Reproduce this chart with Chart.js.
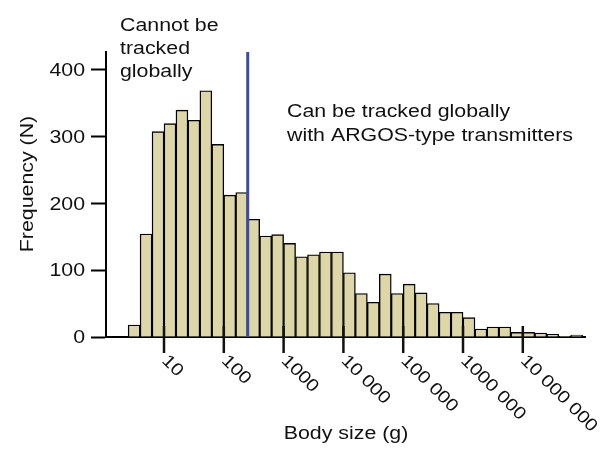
<!DOCTYPE html>
<html lang="en">
<head>
    <meta charset="UTF-8">
    <title>Body size histogram</title>
    <script src="https://cdn.jsdelivr.net/npm/chart.js"></script>
    <style>
        body {
            margin: 0;
            padding: 0;
            background-color: #ffffff;
        }
        #wrap {
            width: 607px;
            height: 449px;
        }
    </style>
</head>
<body>
    <div id="wrap"><canvas id="chart" width="607" height="449"></canvas></div>
    <script>
        // bin centres, log10 of body size in grams (bins are 0.2 decades wide)
        const logMass = [0.5, 0.7, 0.9, 1.1, 1.3, 1.5, 1.7, 1.9, 2.1, 2.3,
                         2.5, 2.7, 2.9, 3.1, 3.3, 3.5, 3.7, 3.9, 4.1, 4.3,
                         4.5, 4.7, 4.9, 5.1, 5.3, 5.5, 5.7, 5.9, 6.1, 6.3,
                         6.5, 6.7, 6.9, 7.1, 7.3, 7.5, 7.7, 7.9];
        // number of species in each bin
        const counts = [18, 154, 307, 319, 339, 324, 368, 288, 212, 216,
                        176, 151, 153, 140, 120, 123, 127, 127, 96, 65,
                        52, 94, 65, 79, 66, 50, 37, 37, 29, 12,
                        15, 15, 7, 7, 6, 4, 1, 3];

        // x tick positions (log10 g) and their labels
        const xTickLogs = [1, 2, 3, 4, 5, 6, 7];
        const xTickLabels = ['10', '100', '1000', '10 000', '100 000', '1000 000', '10 000 000'];
        const yTicks = [0, 100, 200, 300, 400];

        // smallest mass that ARGOS transmitters can carry (log10 g)
        const argosLimit = 2.4;

        const leftNote = ['Cannot be', 'tracked', 'globally'];
        const rightNote = ['Can be tracked globally', 'with ARGOS-type transmitters'];
        const xTitle = 'Body size (g)';
        const yTitle = 'Frequency (N)';

        const FONT = '"Liberation Sans", Arial, Helvetica, sans-serif';
        const INK = '#111111';
        const STRETCH = 1.22; // the original lettering is set wide

        // writes text stretched along its own direction
        function wideText(c, text, x, y, angle, align, stretch) {
            c.save();
            c.translate(x, y);
            c.rotate(angle);
            c.scale(stretch, 1);
            c.textAlign = align;
            c.fillText(text, 0, 0);
            c.restore();
        }

        // draws the limit line, the x ticks that cross the axis, labels and notes
        const overlay = {
            id: 'overlay',
            afterDraw(chart) {
                const { ctx, chartArea } = chart;
                const x = chart.scales.x;
                const y = chart.scales.y;
                ctx.save();

                const lx = x.getPixelForValue(argosLimit);
                ctx.strokeStyle = '#3d4c9e';
                ctx.lineWidth = 3;
                ctx.beginPath();
                ctx.moveTo(lx, chartArea.top);
                ctx.lineTo(lx, chartArea.bottom);
                ctx.stroke();

                ctx.fillStyle = INK;
                ctx.strokeStyle = INK;
                ctx.font = '17.5px ' + FONT;
                ctx.textBaseline = 'alphabetic';
                xTickLogs.forEach((v, i) => {
                    const px = x.getPixelForValue(v);
                    ctx.lineWidth = 2.5;
                    ctx.beginPath();
                    ctx.moveTo(px, chartArea.bottom - 11);
                    ctx.lineTo(px, chartArea.bottom + 16);
                    ctx.stroke();
                    wideText(ctx, xTickLabels[i], px - 3, chartArea.bottom + 24.5, Math.PI / 4, 'left', 1.15);
                });

                ctx.textBaseline = 'middle';
                yTicks.forEach(v => {
                    wideText(ctx, String(v), 85, y.getPixelForValue(v) + 1.5, 0, 'right', STRETCH);
                });

                ctx.textBaseline = 'alphabetic';
                leftNote.forEach((t, i) => wideText(ctx, t, 120, 31 + i * 23, 0, 'left', STRETCH));
                rightNote.forEach((t, i) => wideText(ctx, t, 287, 117 + i * 23.5, 0, 'left', STRETCH));
                wideText(ctx, xTitle, 346, 439, 0, 'center', STRETCH);
                wideText(ctx, yTitle, 33, 184, -Math.PI / 2, 'center', STRETCH);

                ctx.restore();
            }
        };

        const ctx = document.getElementById('chart').getContext('2d');
        new Chart(ctx, {
            type: 'bar',
            data: {
                datasets: [{
                    data: logMass.map((m, i) => ({ x: m, y: counts[i] })),
                    backgroundColor: '#ddd6a9',
                    borderColor: '#000000',
                    borderWidth: 1.4,
                    borderSkipped: 'start',
                    barPercentage: 1,
                    categoryPercentage: 1
                }]
            },
            options: {
                responsive: false,
                animation: false,
                layout: { padding: { left: 0, right: 22, top: 52, bottom: 0 } },
                plugins: {
                    legend: { display: false },
                    tooltip: { enabled: false }
                },
                scales: {
                    x: {
                        type: 'linear',
                        min: 0.03,
                        max: 8.04,
                        offset: false,
                        z: 1,
                        grid: { display: false, drawTicks: false },
                        border: { display: true, color: '#000000', width: 2 },
                        ticks: { display: false },
                        afterFit: s => { s.height = 112; }
                    },
                    y: {
                        min: 0,
                        max: 426,
                        z: 1,
                        afterBuildTicks: s => { s.ticks = yTicks.map(v => ({ value: v })); },
                        grid: {
                            drawOnChartArea: false,
                            drawTicks: true,
                            tickLength: 15,
                            tickWidth: 2,
                            tickColor: '#000000'
                        },
                        border: { display: true, color: '#000000', width: 2 },
                        ticks: { display: false },
                        afterFit: s => { s.width = 106; }
                    }
                }
            },
            plugins: [overlay]
        });
    </script>
</body>
</html>
